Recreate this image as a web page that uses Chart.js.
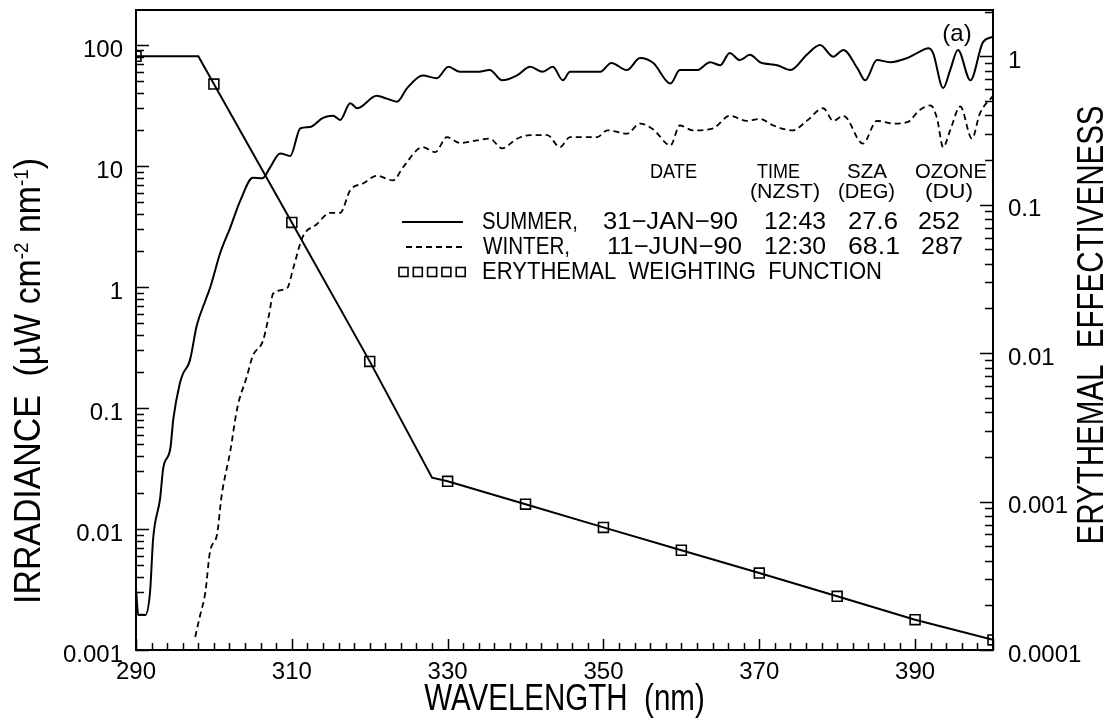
<!DOCTYPE html>
<html><head><meta charset="utf-8">
<script src="https://cdn.jsdelivr.net/npm/chart.js@4.4.1/dist/chart.umd.min.js"></script>
<style>html,body{margin:0;padding:0;background:#fff;}canvas{display:block}</style>
</head><body>
<canvas id="c" width="1111" height="725"></canvas>
<script>
// ---------- DATA ----------
const summerWavelength = [290.0,290.3,291.2,291.8,292.2,293.1,293.5,294.4,294.8,295.6,296.0,296.9,297.8,298.9,299.5,300.8,302.1,303.4,305.0,306.2,307.2,308.5,309.8,311.1,312.3,314.0,315.3,316.2,317.5,318.4,320.9,322.2,323.5,324.8,326.8,328.6,330.1,331.6,333.8,335.4,337.0,338.9,340.6,342.2,343.5,344.8,345.7,349.6,351.0,353.0,354.7,356.4,358.6,359.8,362.0,363.7,365.0,366.2,367.5,368.8,370.1,372.3,374.0,376.1,377.8,379.5,380.8,382.6,383.6,385.1,386.8,389.0,390.3,391.7,392.3,393.6,394.5,395.5,397.1,398.7,400.0];
const summerIrradiance = [0.0032,0.00195,0.00195,0.0030,0.0083,0.018,0.032,0.046,0.082,0.157,0.19,0.245,0.48,0.77,0.98,1.9,3.1,5.2,8.0,7.9,9.7,12.7,12.1,20.5,21,25,26,24,33,30,38,36,34,44,56,53,66,60,60,62,51,56,66,60,66,51,60,60,71,62,78,71,48,62,62,72,68,86,75,83,72,68,62,83,100,80,91,64,51,75,72,78,86,94,86,44,62,91,51,105,117];

const winterWavelength = [297.6,298.2,298.9,299.5,300.4,301.0,302.1,303.0,304.2,305.0,306.3,307.1,307.6,309.4,310.2,311.4,313.2,314.9,316.2,317.5,319.2,320.9,323.0,324.3,326.8,328.4,329.9,331.6,333.8,335.4,337.0,338.9,340.6,342.8,344.4,345.7,349.2,350.5,353.0,354.7,356.4,358.6,359.8,361.5,364.1,366.2,368.4,370.1,371.8,374.3,376.1,378.2,379.5,380.8,383.3,385.1,387.2,389.0,390.6,392.0,392.8,393.6,394.5,395.8,397.3,398.3,400.0];
const winterIrradiance = [0.00128,0.0019,0.003,0.0065,0.009,0.019,0.044,0.1,0.18,0.27,0.36,0.6,0.88,0.98,1.44,2.6,3.3,4.1,4.1,6.3,7.2,8.3,7.6,9.8,14.3,13,17.3,15.5,16.3,16.8,14,16.8,18,18,14.3,17.3,17.3,19.7,18.5,22.4,20,14.8,21.6,19.7,20.5,26,23.6,24.5,21.6,19.7,23.6,30,23.6,26,15.3,23.6,22.4,23,29,31.6,25,14.3,19.7,31,16.8,27,38];

const erythemalWavelength = [290,298,300,310,320,328,330,340,350,360,370,380,390,400];
const erythemalEffectiveness = [1,1,0.65,0.076,0.0088,0.00145,0.00137,0.00096,0.00067,0.00047,0.00033,0.00023,0.00016,0.000117];
const erythemalMarkerWavelengths = [290,300,310,320,330,340,350,360,370,380,390,400];

const xTickValues = [290,310,330,350,370,390];
const xTickLabels = ['290','310','330','350','370','390'];
const yTickValues = [0.001,0.01,0.1,1,10,100];
const yTickLabels = ['0.001','0.01','0.1','1','10','100'];
const y2TickValues = [0.0001,0.001,0.01,0.1,1];
const y2TickLabels = ['0.0001','0.001','0.01','0.1','1'];

const legendHeaders = [['DATE'], ['TIME', '(NZST)'], ['SZA', '(DEG)'], ['OZONE', '(DU)']];
const legendRows = [
  ['SUMMER,', '31\u2212JAN\u221290', '12:43', '27.6', '252'],
  ['WINTER,', '11\u2212JUN\u221290', '12:30', '68.1', '287']
];
const legendErythemal = 'ERYTHEMAL  WEIGHTING  FUNCTION';

// ---------- STYLE / LAYOUT ----------
const SANS = "'Liberation Sans', Arial, Helvetica, sans-serif";

const toXY = (xs, ys) => xs.map((x, i) => ({x, y: ys[i]}));

function scaledText(ctx, text, x, y, align, rot, sx) {
  ctx.save();
  ctx.translate(x, y);
  if (rot) ctx.rotate(rot);
  ctx.scale(sx, 1);
  ctx.textAlign = align;
  ctx.fillText(text, 0, 0);
  ctx.restore();
}
// draw text condensed/stretched horizontally so that it spans [x0, x1]
function spanText(ctx, text, x0, x1, y) {
  const w = ctx.measureText(text).width;
  scaledText(ctx, text, x0, y, 'left', 0, (x1 - x0) / w);
}

const decorations = {
  id: 'decorations',
  afterDraw(chart) {
    const {ctx, chartArea: a, scales} = chart;
    const x = scales.x, y = scales.y, y2 = scales.y2;
    ctx.save();
    ctx.strokeStyle = '#000';
    ctx.fillStyle = '#000';
    ctx.lineWidth = 2;
    ctx.strokeRect(a.left, a.top, a.right - a.left, a.bottom - a.top);

    // inward tick marks
    ctx.lineWidth = 1.5;
    ctx.beginPath();
    for (let v = 290; v <= 400; v += 2) {
      const px = Math.round(x.getPixelForValue(v)) + 0.5;
      const len = (xTickValues.includes(v) || v === 400) ? 11 : 7;
      ctx.moveTo(px, a.bottom); ctx.lineTo(px, a.bottom - len);
    }
    const logTicks = (scale, side) => {
      const mn = scale.min, mx = scale.max;
      for (let e = Math.floor(Math.log10(mn)); e <= Math.ceil(Math.log10(mx)); e++) {
        for (let k = 1; k < 10; k++) {
          const v = k * Math.pow(10, e);
          if (v < mn * 0.999 || v > mx) continue;
          const py = Math.round(scale.getPixelForValue(v)) + 0.5;
          const len = k === 1 ? 13 : 8;
          if (side === 'left') { ctx.moveTo(a.left, py); ctx.lineTo(a.left + len, py); }
          else { ctx.moveTo(a.right, py); ctx.lineTo(a.right - len, py); }
        }
      }
    };
    logTicks(y, 'left');
    logTicks(y2, 'right');
    ctx.stroke();

    // axis titles
    ctx.textBaseline = 'middle';
    ctx.font = '36px ' + SANS;
    scaledText(ctx, 'WAVELENGTH  (nm)', (a.left + a.right) / 2, 700, 'center', 0, 0.82);
    scaledText(ctx, 'ERYTHEMAL  EFFECTIVENESS', 1093, 325, 'center', -Math.PI / 2, 0.82);

    // left title with superscripts
    const segs = [
      {t: 'IRRADIANCE  (\u00B5W cm', s: false},
      {t: '-2', s: true},
      {t: ' nm', s: false},
      {t: '-1', s: true},
      {t: ')', s: false}
    ];
    const LS = 0.94;
    const big = '36px ' + SANS, small = '20px ' + SANS;
    let total = 0;
    segs.forEach(sg => { ctx.font = sg.s ? small : big; sg.w = ctx.measureText(sg.t).width * LS; total += sg.w; });
    ctx.save();
    ctx.translate(30, 381);
    ctx.rotate(-Math.PI / 2);
    let cx = -total / 2;
    segs.forEach(sg => {
      ctx.font = sg.s ? small : big;
      scaledText(ctx, sg.t, cx, sg.s ? -8 : 0, 'left', 0, LS);
      cx += sg.w;
    });
    ctx.restore();

    // panel label
    ctx.font = '24px ' + SANS;
    ctx.textAlign = 'center';
    ctx.fillText('(a)', 957, 34);

    // legend table headers  (columns: date, time, sza, ozone)
    ctx.font = '20px ' + SANS;
    const headSpans = [
      [[650, 697]],
      [[757, 800], [750, 820]],
      [[847, 887], [838, 895]],
      [[915, 987], [925, 973]]
    ];
    const headY = [172, 192];
    legendHeaders.forEach((col, c) => col.forEach((t, r) => {
      spanText(ctx, t, headSpans[c][r][0], headSpans[c][r][1], headY[r]);
    }));

    // legend rows
    ctx.font = '24px ' + SANS;
    const rowY = [222, 247, 272];
    const rowSpans = [
      [[482, 578], [603, 738], [764, 826], [848, 898], [918, 960]],
      [[483, 570], [607, 742], [764, 826], [848, 900], [921, 963]]
    ];
    legendRows.forEach((row, r) => row.forEach((t, c) => {
      spanText(ctx, t, rowSpans[r][c][0], rowSpans[r][c][1], rowY[r]);
    }));
    spanText(ctx, legendErythemal, 482, 882, rowY[2]);

    // legend samples
    ctx.lineWidth = 2;
    ctx.beginPath(); ctx.moveTo(402, rowY[0]); ctx.lineTo(463, rowY[0]); ctx.stroke();
    ctx.setLineDash([6, 4]);
    ctx.beginPath(); ctx.moveTo(406, rowY[1]); ctx.lineTo(463, rowY[1]); ctx.stroke();
    ctx.setLineDash([]);
    ctx.lineWidth = 1.6;
    for (let i = 0; i < 5; i++) {
      ctx.strokeRect(399 + i * 14.3, rowY[2] - 4.5, 9, 9);
    }
    ctx.restore();
  }
};

const noPad = s => { s.paddingTop = 0; s.paddingBottom = 0; s.paddingLeft = 0; s.paddingRight = 0; };

new Chart(document.getElementById('c'), {
  type: 'line',
  data: {
    datasets: [
      {
        label: 'SUMMER', yAxisID: 'y',
        data: toXY(summerWavelength, summerIrradiance),
        borderColor: '#000', borderWidth: 2, pointRadius: 0,
        cubicInterpolationMode: 'monotone'
      },
      {
        label: 'WINTER', yAxisID: 'y',
        data: toXY(winterWavelength, winterIrradiance),
        borderColor: '#000', borderWidth: 1.8, borderDash: [6, 4], pointRadius: 0,
        cubicInterpolationMode: 'monotone'
      },
      {
        label: 'ERYTHEMAL WEIGHTING FUNCTION', yAxisID: 'y2',
        data: toXY(erythemalWavelength, erythemalEffectiveness),
        borderColor: '#000', borderWidth: 2, tension: 0,
        pointStyle: 'rect',
        pointRadius: c => erythemalMarkerWavelengths.includes(c.raw && c.raw.x) ? 7 : 0,
        pointBorderWidth: 1.6, pointBorderColor: '#000',
        pointBackgroundColor: 'rgba(0,0,0,0)'
      }
    ]
  },
  options: {
    responsive: false, animation: false,
    layout: {padding: {top: 10, left: 0, right: 0, bottom: 0}},
    plugins: {legend: {display: false}, tooltip: {enabled: false}},
    scales: {
      x: {
        type: 'linear', min: 290, max: 400,
        grid: {display: false, drawTicks: false}, border: {display: false},
        afterBuildTicks: s => { s.ticks = xTickValues.map(v => ({value: v})); },
        afterFit: s => { s.height = 75; noPad(s); },
        ticks: {
          color: '#000', font: {family: SANS, size: 24}, padding: 8,
          maxRotation: 0, autoSkip: false,
          callback: (v, i) => xTickLabels[i]
        }
      },
      y: {
        type: 'logarithmic', position: 'left', min: 0.001, max: 194.5,
        grid: {display: false, drawTicks: false}, border: {display: false},
        afterBuildTicks: s => { s.ticks = yTickValues.map(v => ({value: v})); },
        afterFit: s => { s.width = 136; noPad(s); },
        ticks: {
          color: '#000', font: {family: SANS, size: 24}, padding: 13, labelOffset: 5,
          autoSkip: false, callback: (v, i) => yTickLabels[i]
        }
      },
      y2: {
        type: 'logarithmic', position: 'right', min: 0.0001, max: 2.05,
        grid: {display: false, drawTicks: false}, border: {display: false},
        afterBuildTicks: s => { s.ticks = y2TickValues.map(v => ({value: v})); },
        afterFit: s => { s.width = 118; noPad(s); },
        ticks: {
          color: '#000', font: {family: SANS, size: 24}, padding: 15, labelOffset: 5,
          autoSkip: false, callback: (v, i) => y2TickLabels[i]
        }
      }
    }
  },
  plugins: [decorations]
});
</script>
</body></html>
